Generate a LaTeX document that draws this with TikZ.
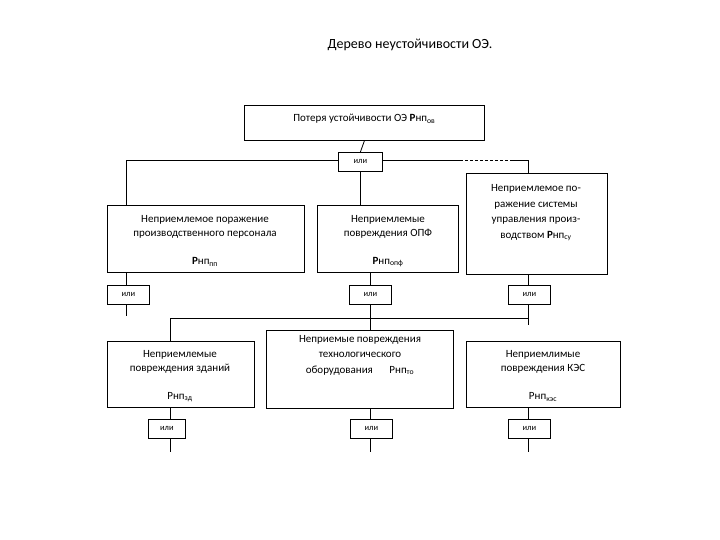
\documentclass[tikz,border=0pt]{standalone}
\usepackage{fontspec}
\setmainfont{Carlito}
\begin{document}
\begin{tikzpicture}[x=1pt,y=-1pt,
 box/.style={draw,line width=0.8pt,inner sep=1pt,align=center,font=\fontsize{11}{14}\selectfont},
 ili/.style={draw,line width=0.8pt,minimum width=42pt,minimum height=19pt,inner sep=0pt,font=\fontsize{8.5}{10}\selectfont,text depth=0pt,anchor=north west},
 ln/.style={line width=0.8pt}]
\useasboundingbox (0,0) rectangle (720,540);
\node[font=\fontsize{14}{16}\selectfont] (title) at (410,45) {Дерево неустойчивости ОЭ.};
\newcommand{\rn}[1]{{\bfseries Р}нп\textsubscript{#1}}
% top
\node[box,minimum width=240pt,minimum height=35pt,anchor=north west,text depth=10pt] (top) at (244,105) {Потеря устойчивости ОЭ \rn{ов}};
\node[ili,minimum width=44pt] (o0) at (338,152) {или};
% level 1
\node[box,minimum width=197pt,minimum height=67pt,anchor=north west] (l1) at (107,205) {};
\node[font=\fontsize{11}{14}\selectfont,align=center] (l1t) at (205,227) {Неприемлемое поражение\\производственного персонала};
\node[font=\fontsize{11}{14}\selectfont] (l1r) at (205,262) {\rn{пп}};
\node[box,minimum width=141pt,minimum height=67pt,anchor=north west] (m1) at (317,205) {};
\node[font=\fontsize{11}{14}\selectfont,align=center] (m1t) at (388,227) {Неприемлемые\\повреждения ОПФ};
\node[font=\fontsize{11}{14}\selectfont] (m1r) at (388,262) {\rn{опф}};
\node[box,minimum width=141pt,minimum height=101pt,anchor=north west] (r1) at (466,173) {};
\node[font=\fontsize{11}{15.5}\selectfont,align=center] (r1t) at (536,213) {Неприемлемое по-\\ражение системы\\управления произ-\\водством \rn{су}};
% или level 1
\node[ili] (o1a) at (107,285) {или};
\node[ili] (o1b) at (349,285) {или};
\node[ili] (o1c) at (508,285) {или};
% level 2
\node[box,minimum width=147pt,minimum height=66pt,anchor=north west] (l2) at (107,341) {};
\node[font=\fontsize{11}{14}\selectfont,align=center] (l2t) at (180,362) {Неприемлемые\\повреждения зданий};
\node[font=\fontsize{11}{14}\selectfont] (l2r) at (180,397) {Рнп\textsubscript{зд}};
\node[box,minimum width=187pt,minimum height=78pt,anchor=north west] (m2) at (266,330) {};
\node[font=\fontsize{11}{15.5}\selectfont,align=center] (m2t) at (360,355) {Неприемые повреждения\\технологического\\оборудования\hspace{1.5em}Рнп\textsubscript{то}};
\node[box,minimum width=154pt,minimum height=66pt,anchor=north west] (r2) at (466,341) {};
\node[font=\fontsize{11}{14}\selectfont,align=center] (r2t) at (543,362) {Неприемлимые\\повреждения КЭС};
\node[font=\fontsize{11}{14}\selectfont] (r2r) at (543,397) {Рнп\textsubscript{кэс}};
% или level 2
\node[ili,minimum width=37pt] (o2a) at (148,419) {или};
\node[ili] (o2b) at (350,419) {или};
\node[ili] (o2c) at (508,419) {или};
% connectors
\draw[ln] (top.south) -- (o0.north);
\draw[ln] (o0.west |- 0,160) -- (126,160) -- (l1.north -| 126,0);
\draw[ln] (o0.south) -- (m1.north -| o0.south);
\draw[ln] (o0.east |- 0,160) -- (460,160);
\draw[ln,dashed,dash pattern=on 3pt off 2pt] (460,160) -- (510,160);
\draw[ln] (510,160) -- (528,160) -- (r1.north -| 528,0);
\draw[ln] (l1.south -| 126,0) -- (o1a.north -| 126,0);
\draw[ln] (o1a.south -| 126,0) -- (126,316);
\draw[ln] (m1.south -| 370,0) -- (o1b.north -| 370,0);
\draw[ln] (r1.south -| 528,0) -- (o1c.north -| 528,0);
\draw[ln] (o1b.south -| 370,0) -- (370,318);
\draw[ln] (o1c.south -| 528,0) -- (528,325);
\draw[ln] (l2.north -| 170,0) -- (170,318) -- (528,318);
\draw[ln] (370,318) -- (m2.north -| 370,0);
\draw[ln] (l2.south -| 170,0) -- (o2a.north -| 170,0);
\draw[ln] (m2.south -| 370,0) -- (o2b.north -| 370,0);
\draw[ln] (r2.south -| 528,0) -- (o2c.north -| 528,0);
\coordinate (e1) at (170,452);
\coordinate (e2) at (370,452);
\coordinate (e3) at (528,452);
\draw[ln] (o2a.south -| 170,0) -- (e1);
\draw[ln] (o2b.south -| 370,0) -- (e2);
\draw[ln] (o2c.south -| 528,0) -- (e3);
\end{tikzpicture}
\end{document}
